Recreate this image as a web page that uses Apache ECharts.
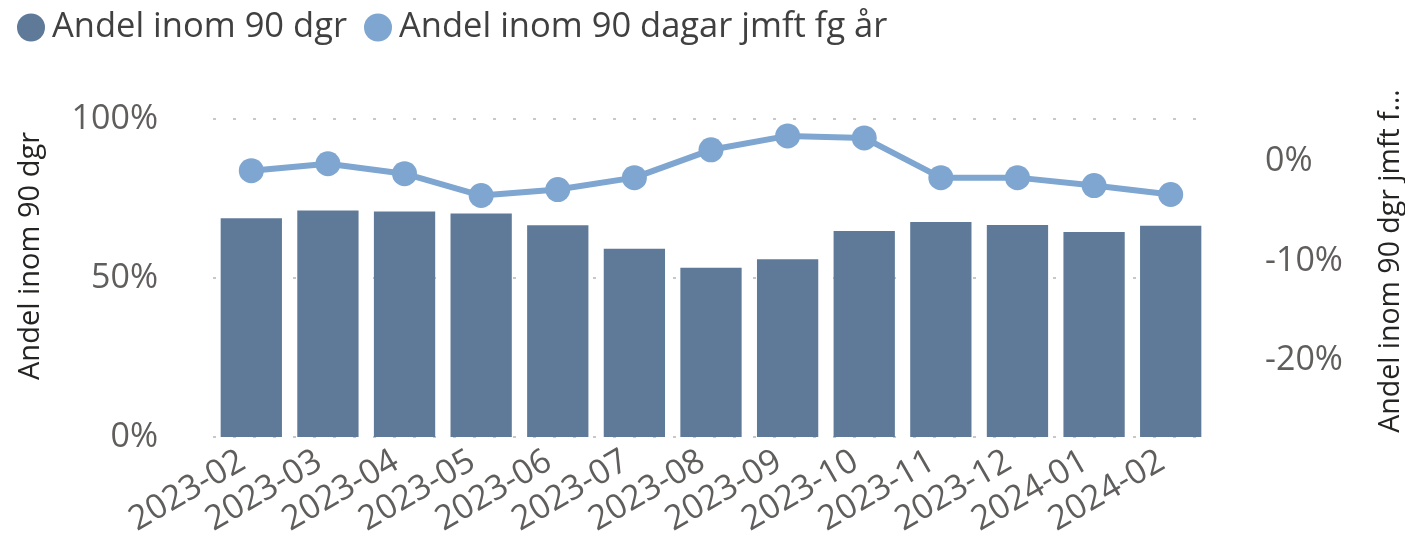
<!DOCTYPE html>
<html>
<head>
<meta charset="utf-8">
<script src="https://cdn.jsdelivr.net/npm/echarts@6/dist/echarts.min.js"></script>
<style>
  html, body { margin: 0; padding: 0; background: #fff; }
  #chart { width: 1405px; height: 534px; }
</style>
</head>
<body>
<div id="chart"></div>
<script>
// månader
var categories = ['2023-02', '2023-03', '2023-04', '2023-05', '2023-06', '2023-07', '2023-08',
                  '2023-09', '2023-10', '2023-11', '2023-12', '2024-01', '2024-02'];
// andel inom 90 dgr (%)
var andel90 = [68.8, 71.2, 70.9, 70.3, 66.6, 59.2, 53.2, 55.9, 64.8, 67.6, 66.7, 64.5, 66.4];
// förändring jämfört med föregående år (procentenheter)
var andelJmft = [-0.9, -0.2, -1.2, -3.4, -2.8, -1.6, 1.2, 2.6, 2.4, -1.6, -1.6, -2.4, -3.3];
var rightTicks = [-20, -10, 0];

var chart = echarts.init(document.getElementById('chart'));
var font = '"Open Sans", "Noto Sans", sans-serif';

var option = {
    animation: false,
    textStyle: { fontFamily: font },
    legend: {
        left: 12,
        top: 5,
        icon: 'circle',
        itemWidth: 32,
        itemHeight: 28,
        itemGap: 17,
        textStyle: { fontSize: 34.5, color: '#404040', fontFamily: font },
        data: ['Andel inom 90 dgr', 'Andel inom 90 dagar jmft fg år']
    },
    grid: { left: 213, right: 196, top: 119, bottom: 97, outerBoundsMode: 'none' },
    xAxis: {
        type: 'category',
        data: categories,
        axisLine: { show: false },
        axisTick: { show: false },
        axisLabel: {
            rotate: 30, fontSize: 34, color: '#605E5C', margin: 17, interval: 0,
            padding: [0, 10, 0, 0]
        }
    },
    yAxis: [
        {
            type: 'value',
            min: 0,
            max: 100,
            interval: 50,
            name: 'Andel inom 90 dgr',
            nameLocation: 'middle',
            nameRotate: 90,
            nameGap: 168,
            nameTextStyle: { fontSize: 29, color: '#252423', padding: [0, 0, 0, 44] },
            axisLabel: {
                fontSize: 34, color: '#605E5C', margin: 55,
                formatter: function (v) { return v + '%'; }
            },
            axisTick: { show: false },
            axisLine: { show: false },
            splitLine: {
                lineStyle: { color: '#c8c8c8', type: [3, 17], width: 2 }
            }
        },
        {
            type: 'value',
            min: -27.7,
            max: 4.3,
            name: 'Andel inom 90 dgr jmft f…',
            nameLocation: 'middle',
            nameRotate: 90,
            nameGap: 167,
            nameTextStyle: { fontSize: 28.5, color: '#252423', padding: [0, 0, 0, 34] },
            axisLabel: {
                customValues: rightTicks,
                fontSize: 34, color: '#605E5C', margin: 56,
                formatter: function (v) { return v + '%'; }
            },
            axisTick: { show: false },
            axisLine: { show: false },
            splitLine: { show: false }
        }
    ],
    series: [
        {
            name: 'Andel inom 90 dgr',
            type: 'bar',
            yAxisIndex: 0,
            data: andel90,
            barWidth: '80%',
            itemStyle: { color: '#5F7A99' }
        },
        {
            name: 'Andel inom 90 dagar jmft fg år',
            type: 'line',
            yAxisIndex: 1,
            data: andelJmft,
            symbol: 'circle',
            symbolSize: 25,
            lineStyle: { width: 6, color: '#7EA6D0' },
            itemStyle: { color: '#7EA6D0' }
        }
    ]
};

chart.setOption(option);
window.addEventListener('resize', function () {
    chart.resize();
});
</script>
</body>
</html>
